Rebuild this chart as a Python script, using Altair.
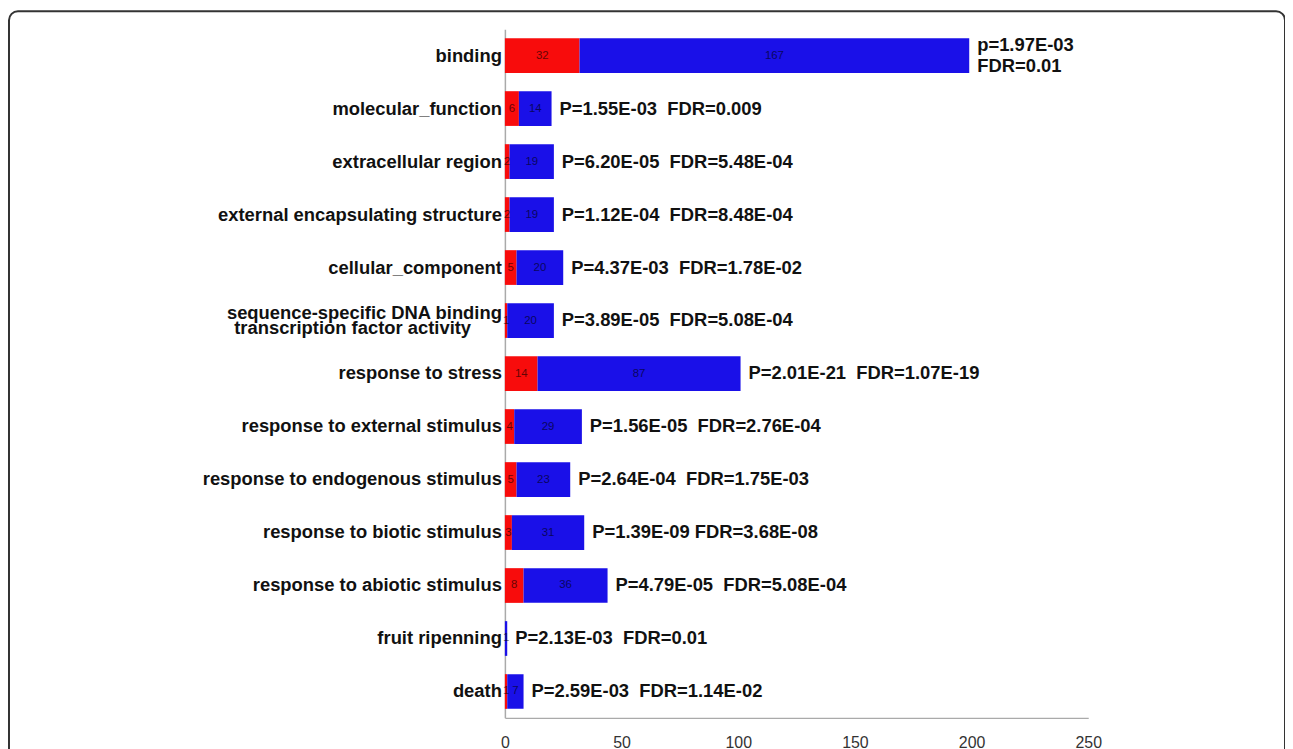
import altair as alt
import pandas as pd

NB = "\u00a0"

categories = [
    "binding",
    "molecular_function",
    "extracellular region",
    "external encapsulating structure",
    "cellular_component",
    "sequence-specific DNA binding transcription factor activity",
    "response to stress",
    "response to external stimulus",
    "response to endogenous stimulus",
    "response to biotic stimulus",
    "response to abiotic stimulus",
    "fruit ripenning",
    "death",
]
# how the category names are printed on the left (one or two lines)
label_line1 = [
    "binding",
    "molecular_function",
    "extracellular region",
    "external encapsulating structure",
    "cellular_component",
    "sequence-specific DNA binding",
    "response to stress",
    "response to external stimulus",
    "response to endogenous stimulus",
    "response to biotic stimulus",
    "response to abiotic stimulus",
    "fruit ripenning",
    "death",
]
label_line2 = ["", "", "", "", "", "transcription factor activity", "", "", "", "", "", "", ""]

red_counts = [32, 6, 2, 2, 5, 1, 14, 4, 5, 3, 8, 0, 1]
blue_counts = [167, 14, 19, 19, 20, 20, 87, 29, 23, 31, 36, 1, 7]
ann_line1 = [
    "p=1.97E-03",
    "P=1.55E-03" + NB + " FDR=0.009",
    "P=6.20E-05" + NB + " FDR=5.48E-04",
    "P=1.12E-04" + NB + " FDR=8.48E-04",
    "P=4.37E-03" + NB + " FDR=1.78E-02",
    "P=3.89E-05" + NB + " FDR=5.08E-04",
    "P=2.01E-21" + NB + " FDR=1.07E-19",
    "P=1.56E-05" + NB + " FDR=2.76E-04",
    "P=2.64E-04" + NB + " FDR=1.75E-03",
    "P=1.39E-09 FDR=3.68E-08",
    "P=4.79E-05" + NB + " FDR=5.08E-04",
    "P=2.13E-03" + NB + " FDR=0.01",
    "P=2.59E-03" + NB + " FDR=1.14E-02",
]
ann_line2 = ["FDR=0.01", "", "", "", "", "", "", "", "", "", "", "", ""]
x_ticks = [0, 50, 100, 150, 200, 250]

RED = "#f80c0c"
BLUE = "#1a10e8"
FONT = "Liberation Sans"

rows = []
for i, c in enumerate(categories):
    rows.append(dict(category=c, group="up", value=red_counts[i], order=0))
    rows.append(dict(category=c, group="down", value=blue_counts[i], order=1))
bars_df = pd.DataFrame(rows)

info_df = pd.DataFrame(
    dict(
        category=categories,
        total=[r + b for r, b in zip(red_counts, blue_counts)],
        a1=ann_line1,
        a2=ann_line2,
        l1=label_line1,
        l2=label_line2,
    )
)

xscale = alt.Scale(domain=[0, 250], nice=False)
xaxis = alt.Axis(
    title=None,
    values=x_ticks,
    grid=False,
    ticks=False,
    labelFont=FONT,
    labelFontSize=16,
    labelColor="#333333",
    labelPadding=17,
    labelFlush=False,
    domainColor="#aaaaaa",
    domainWidth=1.5,
)
yaxis = alt.Axis(
    title=None,
    labels=False,
    ticks=False,
    domainColor="#aaaaaa",
    domainWidth=1.5,
)
ysc = alt.Scale(paddingInner=0.345, paddingOuter=0.17)
yenc = alt.Y("category:N", sort=categories, scale=ysc, axis=yaxis)

border = alt.Chart(pd.DataFrame({"a": [0]})).mark_rect(
    fill="transparent", stroke="#333333", strokeWidth=2, cornerRadius=9
).encode(
    x=alt.value(-499), x2=alt.value(785), y=alt.value(-18), y2=alt.value(745)
)

bars = alt.Chart(bars_df).mark_bar().encode(
    x=alt.X("value:Q", stack="zero", scale=xscale, axis=xaxis),
    y=yenc,
    color=alt.Color(
        "group:N",
        scale=alt.Scale(domain=["up", "down"], range=[RED, BLUE]),
        legend=None,
    ),
    order=alt.Order("order:Q"),
)

seg_labels = (
    alt.Chart(bars_df)
    .transform_filter("datum.value > 0")
    .transform_stack(
        stack="value",
        groupby=["category"],
        as_=["v0", "v1"],
        sort=[alt.SortField("order", order="ascending")],
    )
    .transform_calculate(mid="(datum.v0 + datum.v1) / 2")
    .mark_text(font=FONT, fontSize=11.5, color="#000000", opacity=0.6)
    .encode(x=alt.X("mid:Q", scale=xscale, axis=xaxis), y=yenc, text="value:Q")
)

base = alt.Chart(info_df)
ann_style = dict(
    align="left", baseline="middle", font=FONT, fontWeight="bold",
    fontSize=18.5, color="#111111", dx=8,
)
ann_single = base.transform_filter("datum.a2 == ''").mark_text(**ann_style).encode(
    x=alt.X("total:Q", scale=xscale, axis=xaxis), y=yenc, text="a1:N"
)
ann_top = base.transform_filter("datum.a2 != ''").mark_text(dy=-11, **ann_style).encode(
    x=alt.X("total:Q", scale=xscale, axis=xaxis), y=yenc, text="a1:N"
)
ann_bot = base.transform_filter("datum.a2 != ''").mark_text(dy=11, **ann_style).encode(
    x=alt.X("total:Q", scale=xscale, axis=xaxis), y=yenc, text="a2:N"
)

lab_style = dict(
    align="right", baseline="middle", font=FONT, fontWeight="bold",
    fontSize=18.5, color="#111111",
)
lab_single = base.transform_filter("datum.l2 == ''").mark_text(dx=-3, **lab_style).encode(
    x=alt.datum(0, scale=xscale, axis=xaxis), y=yenc, text="l1:N"
)
lab_top = base.transform_filter("datum.l2 != ''").mark_text(dx=-3, dy=-8, **lab_style).encode(
    x=alt.datum(0, scale=xscale, axis=xaxis), y=yenc, text="l1:N"
)
lab_bot = base.transform_filter("datum.l2 != ''").mark_text(dx=-34, dy=8, **lab_style).encode(
    x=alt.datum(0, scale=xscale, axis=xaxis), y=yenc, text="l2:N"
)

chart = (
    alt.layer(border, bars, seg_labels, ann_single, ann_top, ann_bot,
              lab_single, lab_top, lab_bot)
    .properties(
        width=587,
        height=693,
        padding={"left": 500, "top": 19, "right": 198, "bottom": 29},
        autosize=alt.AutoSizeParams(type="none"),
    )
    .configure_view(stroke="transparent")
)

chart.save("out.html", embed_options={"renderer": "svg", "actions": False})
